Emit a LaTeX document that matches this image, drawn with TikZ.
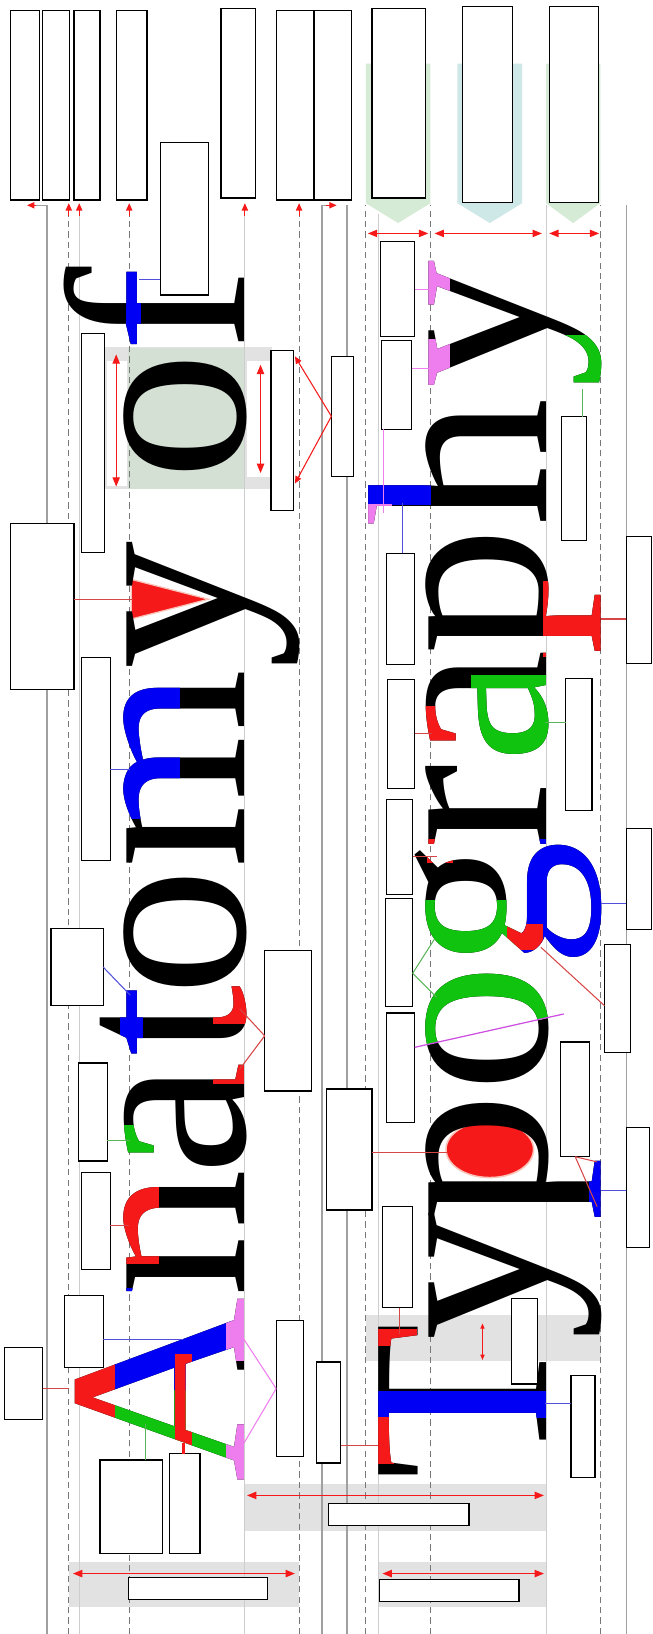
\documentclass[tikz,border=0pt]{standalone}
\usepackage{fontspec}
\setmainfont{Liberation Serif}
\usetikzlibrary{arrows.meta}
\definecolor{cred}{RGB}{245,25,25}
\definecolor{cblue}{RGB}{0,0,245}
\definecolor{cgreen}{RGB}{15,195,15}
\definecolor{cpink}{RGB}{238,125,238}
\definecolor{cmag}{RGB}{205,80,225}
\definecolor{lred}{RGB}{215,70,70}
\definecolor{lblue}{RGB}{80,80,220}
\definecolor{lgreen}{RGB}{90,180,90}
\definecolor{band}{RGB}{226,226,226}
\definecolor{sage}{RGB}{212,224,212}
\definecolor{chevg}{RGB}{213,235,213}
\definecolor{chevt}{RGB}{205,232,230}
\definecolor{gline}{RGB}{160,160,160}
\definecolor{gline2}{RGB}{205,205,205}
\definecolor{gdash}{RGB}{120,120,120}
\definecolor{halo}{RGB}{250,195,185}
\newcommand\bigfont{\fontsize{246}{250}\selectfont}
\newcommand\WA[2]{\node[word,text=#1] (#2) at (235,1423) {An\kern-6pt a\kern6pt t\kern-12pt omy\kern-3pt\ of};}
\newcommand\WT[2]{\node[word,text=#1] (#2) at (524,1420) {Ty\kern-8pt po\kern-4pt g\kern-8pt ra\kern-5pt ph\kern10pt y};}
\newcommand\lbox[5]{\node[lbl,minimum width={#4pt-#2pt},minimum height={#5pt-#3pt}] (#1) at ({(#2+#4)/2},{(#3+#5)/2}) {};}
\tikzset{
 word/.style={rotate=90,anchor=base west,inner sep=0pt,outer sep=0pt,font=\bigfont},
 lbl/.style={draw=black,line width=1.2pt,fill=white,inner sep=0pt,outer sep=0pt},
 gd/.style={draw=gdash,line width=0.9pt,dash pattern=on 6pt off 4pt},
 gs/.style={draw=gline,line width=1.4pt},
 gl/.style={draw=gline2,line width=1pt},
 dar/.style={draw=cred,line width=1.3pt,{Triangle[length=9pt,width=7pt]}-{Triangle[length=9pt,width=7pt]}},
 sar/.style={draw=cred,line width=1pt,-{Triangle[length=7pt,width=6pt]}},
 cr/.style={draw=lred,line width=1pt},
 cb/.style={draw=lblue,line width=1pt},
 cg/.style={draw=lgreen,line width=1pt},
 cp/.style={draw=cpink,line width=1pt},
}
\begin{document}
\begin{tikzpicture}[x=1pt,y=-1pt]
\useasboundingbox (0,0) rectangle (626,1568);
\fill[white] (0,0) rectangle (626,1568);
% bands
\fill[band] (101,333) rectangle (261,469);
\fill[white] (103,346) rectangle (122,466);
\fill[white] (237,346) rectangle (259,458);
\fill[sage] (123,334) rectangle (235,469);
\fill[band] (351,1262) rectangle (577,1306);
\fill[band] (66,1499) rectangle (287,1542);
\fill[band] (235,1424) rectangle (524,1469);
\fill[band] (363,1499) rectangle (524,1542);
% chevrons
\fill[chevg] (351,61) -- (413,61) -- (413,195) -- (382,214) -- (351,195) -- cycle;
\fill[chevt] (439,61) -- (501,61) -- (501,195) -- (470,214) -- (439,195) -- cycle;
\fill[chevg] (524,61) -- (576,61) -- (576,195) -- (550,214) -- (524,195) -- cycle;
% guide lines
\draw[gs] (45,1568) |- (34,197);
\draw[sar] (35,197) -- (26,197);
\draw[gs] (309,1568) |- (314,197);
\draw[sar] (313,197) -- (323,197);
\foreach \gx in {66,124,287} {\draw[gd] (\gx,1568) -- (\gx,205);}
\foreach \gx in {76,235} {\draw[gl] (\gx,1568) -- (\gx,205);}
\foreach \gx in {66,76,124,235,287} {\draw[sar] (\gx,207) -- (\gx,195);}
\foreach \gx in {333,601} {\draw[gs] (\gx,1568) -- (\gx,197);}
\foreach \gx in {351,413,576} {\draw[gd] (\gx,1568) -- (\gx,197);}
\draw[gl] (363,1568) -- (363,205);
\draw[gl] (524,1568) -- (524,197);
% underlays
\filldraw[fill=cred,draw=halo,line width=1.2pt] (126,556) -- (200,575) -- (126,594) -- cycle;
\filldraw[fill=cred,draw=halo,line width=1.5pt] (470,1103) ellipse [x radius=42, y radius=27];
% words
\WA{black}{wA}
\WT{black}{wT}
% overlays word A
\begin{scope}\clip (121,255) rectangle (135,340); \WA{cblue}{wA1}\end{scope}
\begin{scope}\clip (115,650) rectangle (172,785); \WA{cblue}{wA2}\end{scope}
\begin{scope}\clip (116,950) rectangle (137,1016); \WA{cblue}{wA3}\end{scope}
\begin{scope}\clip (205,944) rectangle (240,982); \WA{cred}{wA4}\end{scope}
\begin{scope}\clip (205,1014) rectangle (240,1040); \WA{cred}{wA5}\end{scope}
\begin{scope}\clip (115,1080) rectangle (166,1118); \WA{cgreen}{wA6}\end{scope}
\begin{scope}\clip (115,1140) rectangle (152,1212); \WA{cred}{wA7}\end{scope}
\begin{scope}\clip (110,1236) rectangle (222,1334); \WA{cblue}{wA8}\end{scope}
\begin{scope}\clip (110,1334) rectangle (222,1425); \WA{cgreen}{wA9}\end{scope}
\begin{scope}\clip (55,1290) rectangle (110,1380); \WA{cred}{wA10}\end{scope}
\begin{scope}\clip (168,1300) rectangle (184,1400); \WA{cred}{wA11}\end{scope}
\begin{scope}\clip (217,1240) rectangle (240,1306); \WA{cpink}{wA12}\end{scope}
\begin{scope}\clip (217,1360) rectangle (240,1425); \WA{cpink}{wA13}\end{scope}
% overlays word T
\begin{scope}\clip (355,1335) rectangle (527,1360); \WT{cblue}{wT1}\end{scope}
\begin{scope}\clip (355,1360) rectangle (378,1404); \WT{cred}{wT2}\end{scope}
\begin{scope}\clip (355,1276) rectangle (400,1291); \WT{cred}{wT3}\end{scope}
\begin{scope}\clip (566,1110) rectangle (582,1180); \WT{cblue}{wT4}\end{scope}
\begin{scope}\clip (405,925) -- (530,925) -- (530,975.5) -- (405,1003.4) -- cycle; \WT{cgreen}{wT5}\end{scope}
\begin{scope}\clip (408,864) rectangle (494,925); \WT{cgreen}{wT6}\end{scope}
\begin{scope}\clip (500,806) rectangle (582,925); \WT{cblue}{wT7}\end{scope}
\begin{scope}\clip (487,887) rectangle (521,911); \WT{cred}{wT8}\end{scope}
\begin{scope}\clip (410,806) rectangle (434,828); \WT{cred}{wT9}\end{scope}
\begin{scope}\clip (452,648) rectangle (530,728); \WT{cgreen}{wT10}\end{scope}
\begin{scope}\clip (408,678) rectangle (456,720); \WT{cred}{wT11}\end{scope}
\begin{scope}\clip (522,558) rectangle (582,630); \WT{cred}{wT12}\end{scope}
\begin{scope}\clip (350,456) rectangle (413,484); \WT{cblue}{wT13}\end{scope}
\begin{scope}\clip (350,484) rectangle (376,502); \WT{cpink}{wT14}\end{scope}
\begin{scope}\clip (405,248) rectangle (431,294); \WT{cpink}{wT15}\end{scope}
\begin{scope}\clip (405,326) rectangle (431,382); \WT{cpink}{wT16}\end{scope}
\begin{scope}\clip (538,322) rectangle (582,380); \WT{cgreen}{wT17}\end{scope}
% double arrows
\draw[dar] (353,224) -- (411,224);
\draw[dar] (417,224) -- (520,224);
\draw[dar] (527,224) -- (575,224);
\draw[dar] (111.5,340) -- (111.5,467);
\draw[dar] (250,350) -- (250,454);
\draw[dar] (70,1510) -- (283,1510);
\draw[dar] (237,1435) -- (522,1435);
\draw[dar] (367,1510) -- (522,1510);
\draw[draw=cred,line width=1pt,{Triangle[length=5pt,width=4pt]}-{Triangle[length=5pt,width=4pt]}] (463,1270) -- (463,1305);
% label boxes
\lbox{t1}{10}{10}{38}{192}
\lbox{t2}{41}{10}{67}{192}
\lbox{t3}{71}{10}{96}{192}
\lbox{t4}{112}{10}{141}{192}
\lbox{t5}{212}{8}{245}{190}
\lbox{t6}{265}{10}{301}{192}
\lbox{t7}{302}{10}{337}{192}
\lbox{t8}{357}{8}{408}{190}
\lbox{t9}{444}{6}{492}{194}
\lbox{t10}{527}{6}{574}{194}
\lbox{bf}{154}{137}{200}{283}
\lbox{bo1}{78}{320}{100}{530}
\lbox{bo2}{260}{336}{282}{490}
\lbox{bo3}{318}{342}{339}{457}
\lbox{by}{10}{502}{71}{662}
\lbox{bm}{78}{631}{106}{826}
\lbox{bt}{49}{891}{99}{965}
\lbox{bterm}{254}{912}{299}{1047}
\lbox{ba}{75}{1020}{103}{1114}
\lbox{bn}{78}{1125}{106}{1218}
\lbox{bA1}{62}{1243}{99}{1312}
\lbox{bA2}{4}{1293}{41}{1362}
\lbox{bA3}{265}{1267}{291}{1398}
\lbox{bA4}{96}{1401}{156}{1491}
\lbox{bA5}{163}{1395}{192}{1491}
\lbox{bw1}{123}{1514}{257}{1535}
\lbox{bw2}{315}{1443}{450}{1464}
\lbox{bw3}{364}{1516}{498}{1537}
\lbox{by1}{365}{232}{398}{323}
\lbox{by2}{366}{327}{395}{412}
\lbox{by3}{539}{400}{563}{519}
\lbox{bh}{371}{531}{398}{638}
\lbox{bp}{601}{515}{625}{637}
\lbox{ba1}{372}{652}{398}{757}
\lbox{ba2}{543}{651}{568}{778}
\lbox{br}{371}{767}{396}{858}
\lbox{bg1}{601}{795}{625}{892}
\lbox{bg2}{370}{862}{396}{966}
\lbox{bg3}{580}{906}{605}{1010}
\lbox{bo}{371}{972}{398}{1077}
\lbox{bp2}{538}{1000}{566}{1110}
\lbox{bpb}{313}{1045}{357}{1161}
\lbox{bp3}{601}{1082}{623}{1197}
\lbox{bT1}{367}{1158}{396}{1255}
\lbox{bTy}{491}{1246}{516}{1328}
\lbox{bT2}{304}{1307}{327}{1404}
\lbox{bT3}{548}{1320}{571}{1418}
% connectors word A
\draw[sar] (bo3.west) -- (283,342);
\draw[sar] (bo3.west) -- (283,464);
\draw[cb] (bf.west |- 0,268) -- (133,268);
\draw[cr] (by.east |- 0,575) -- (128,575);
\draw[cb] (bm.east |- 0,738) -- (125,738);
\draw[cb] (bt.east) -- (125,955);
\draw[cr] (bterm.west |- 0,994) -- (230,968);
\draw[cr] (bterm.west |- 0,994) -- (230,1026);
\draw[cg] (ba.east |- 0,1094) -- (125,1094);
\draw[cr] (bn.east |- 0,1176) -- (124,1176);
\draw[cb] (bA1.east |- 0,1285) -- (176,1285);
\draw[cr] (bA2.east |- 0,1332) -- (66,1332);
\draw[draw=cred,line width=2.5pt] (bA5.north -| 176,0) -- (176,1385);
\draw[cg] (bA4.north -| 140,0) -- (140,1366);
\draw[cp] (bA3.west) -- (232,1282);
\draw[cp] (bA3.west) -- (234,1385);
% connectors word T
\draw[cp] (by1.east |- 0,278) -- (413,278);
\draw[cp] (by2.east |- 0,354) -- (413,354);
\draw[cg] (by3.north -| 559,0) -- (559,373);
\draw[cp] (by2.south -| 368,0) -- (368,492);
\draw[cb] (bh.north -| 386,0) -- (386,483);
\draw[cr] (bp.west |- 0,594) -- (577,594);
\draw[cg] (ba2.west |- 0,693) -- (523,693);
\draw[cr] (ba1.east |- 0,704) -- (415,704);
\draw[cr] (br.east |- 0,822) -- (419,822);
\draw[cb] (bg1.west |- 0,867) -- (577,867);
\draw[cg] (bg2.east |- 0,934) -- (417,901);
\draw[cg] (bg2.east |- 0,934) -- (419,957);
\draw[cr] (bg3.west |- 0,965) -- (519,909);
\draw[draw=cmag,line width=1.2pt] (bo.east |- 0,1005) -- (541,973);
\draw[cr] (bpb.east |- 0,1106) -- (429,1106);
\draw[cr] (bp2.south) -- (573,1115);
\draw[cr] (bp2.south) -- (573,1158);
\draw[cb] (bp3.west |- 0,1142) -- (577,1142);
\draw[cr] (bT1.south -| 383,0) -- (383,1280);
\draw[cr] (bT2.east |- 0,1387) -- (363,1387);
\draw[cb] (bT3.west |- 0,1347) -- (523,1347);
\end{tikzpicture}
\end{document}
